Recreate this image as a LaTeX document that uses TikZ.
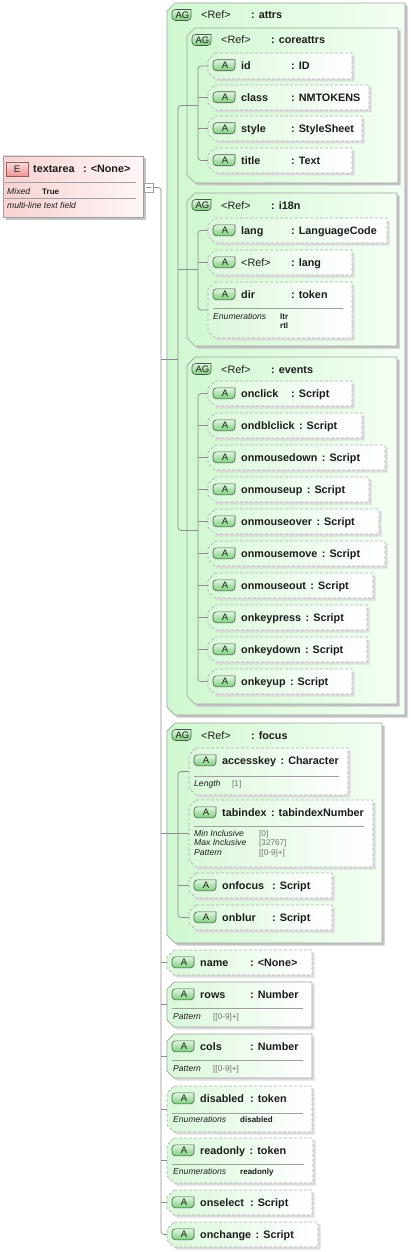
\documentclass[tikz,border=0pt]{standalone}
\usepackage{fontspec}
\setmainfont{Liberation Sans}
\usetikzlibrary{calc}
\definecolor{txt}{HTML}{1C1C1C}
\definecolor{agL}{RGB}{208,248,208}
\definecolor{agR}{RGB}{244,255,244}
\definecolor{aL}{RGB}{218,248,218}
\definecolor{aR}{RGB}{255,255,255}
\definecolor{bordc}{HTML}{A0A0A0}
\definecolor{dashc}{HTML}{B0B0B0}
\definecolor{shc}{HTML}{C4C4C4}
\definecolor{shl}{HTML}{DDDDDD}
\definecolor{conc}{HTML}{8C8C8C}
\definecolor{bdgT}{RGB}{225,248,225}
\definecolor{bdgB}{RGB}{125,205,125}
\definecolor{bdgD}{HTML}{4A5A4A}
\definecolor{eL}{RGB}{248,210,210}
\definecolor{eR}{RGB}{255,246,246}
\definecolor{ebT}{RGB}{252,220,220}
\definecolor{ebB}{RGB}{235,150,150}
\definecolor{ebD}{HTML}{A05858}
\definecolor{fv}{HTML}{707070}
\newcount\tncount
\tikzset{
 autoname/.code={\global\advance\tncount by 1\relax\pgfkeysalso{name=tx\the\tncount}},
 conn/.style={draw=conc, line width=0.7pt, rounded corners=3pt},
 agbox/.style={left color=agL, right color=agR, draw=bordc, line width=0.7pt},
 abox-opt/.style={left color=aL, right color=aR, draw=dashc, line width=0.7pt, dash pattern=on 3pt off 2pt},
 abox-req/.style={left color=aL, right color=aR, draw=bordc, line width=0.7pt},
 shadowAG/.style={fill=shc},
 shadowA/.style={fill=shl},
 lbl/.style={autoname, inner sep=0pt, anchor=base west, text=txt, font=\fontsize{10.8}{12}\selectfont\bfseries},
 badgetxt/.style={autoname, inner sep=0pt, text=txt, font=\fontsize{9.5}{10}\selectfont},
 fkey/.style={autoname, inner sep=0pt, anchor=base west, text=txt, font=\fontsize{8.6}{10}\selectfont\itshape},
 fval/.style={autoname, inner sep=0pt, anchor=base west, text=fv, font=\fontsize{8.2}{10}\selectfont},
 fvalb/.style={autoname, inner sep=0pt, anchor=base west, text=txt, font=\fontsize{8}{10}\selectfont\bfseries},
 sepline/.style={draw=bordc, line width=0.6pt},
 boxnode/.style={inner sep=0pt, outer sep=0pt, anchor=north west},
}
% name/type text with aligned colon column
\newcommand\nt[2]{\setbox0=\hbox{#1}\ifdim\wd0<44pt\hbox to 50pt{\box0\hfil}\else\hbox{\box0\hspace{4.5pt}}\fi: #2}
% chamfered box: name, x0, y0, x1, y1, chamfer, style, shadow style
\newcommand\cbox[8]{%
 \node[boxnode, minimum width={#4pt-#2pt}, minimum height={#5pt-#3pt}] (#1) at (#2,#3) {};
 \path[#8, shift={(2.5,2.5)}] (#2+#6,#3) -- (#4,#3) -- (#4,#5) -- (#2+#6,#5) -- (#2,#5-#6) -- (#2,#3+#6) -- cycle;
 \path[#7] (#2+#6,#3) -- (#4,#3) -- (#4,#5) -- (#2+#6,#5) -- (#2,#5-#6) -- (#2,#3+#6) -- cycle;
}
% badge: name, x, ycenter, width, text
\newcommand\badge[5]{%
 \path[draw=bdgD, line width=0.6pt, top color=bdgT, bottom color=bdgB, rounded corners=3.5pt] (#2+#4,#3-5.5) -- (#2,#3-5.5) -- (#2,#3+5.5) -- (#2+#4,#3+5.5) [sharp corners] -- cycle;
 \node[badgetxt] (#1-b) at (#2+#4/2+1,#3) {#5};
}
% attribute box: name, x0, y0, x1, y1, opt/req, label, type
\newcommand\attr[8]{%
 \cbox{#1}{#2}{#3}{#4}{#5}{7}{abox-#6}{shadowA}
 \badge{#1}{#2+5}{#3+12.3}{22}{A}
 \node[lbl] (#1-t) at (#2+33,#3+16.3) {\nt{#7}{#8}};
}
% attribute group header: name, x0, y0, type
\newcommand\aghead[4]{%
 \badge{#1}{#2+5}{#3+12}{19}{AG}
 \node[lbl] (#1-t) at (#2+34,#3+16) {\nt{\mdseries<Ref>}{#4}};
}
\newcommand\asep[3]{\draw[sepline] (#1+5,#2+26) -- (#3-9,#2+26);}
\newcommand\fct[6]{\node[fkey] at (#1,#2) {#3}; \node[#6] at (#4,#2) {#5};}
\begin{document}
\begin{tikzpicture}[x=1pt,y=-1pt]
\useasboundingbox (0,0) rectangle (411,1252);
\fill[white] (0,0) rectangle (411,1252);

% ---- textarea element ----
\node[boxnode, minimum width=140pt, minimum height=61pt] (textarea) at (3,156) {};
\fill[shc, shift={(2.5,2.5)}] (3,156) rectangle (143,217);
\path[left color=eL, right color=eR, draw=bordc, line width=0.7pt] (3,156) rectangle (143,217);
\path[top color=ebT, bottom color=ebB, draw=ebD, line width=0.6pt] (6,162) rectangle (28,176);
\node[badgetxt] (E-b) at (17,169) {E};
\node[lbl] (textarea-t) at (33,173) {\nt{textarea}{<None>}};
\draw[sepline] (5,182) -- (136,182);
\node[fkey] at (7,194) {Mixed};
\node[fvalb] at (42,194) {True};
\draw[sepline] (5,198) -- (136,198);
\node[fkey] at (7,208) {multi-line text field};
\node[boxnode, draw=bordc, fill=white, line width=0.6pt, minimum width=9pt, minimum height=9pt] (btn) at (144,183) {};
\draw[conc, line width=0.7pt] ($(btn.center)+(-2.5,0)$) -- ($(btn.center)+(2.5,0)$);

% ---- attrs ----
\cbox{attrs}{167}{3}{405}{715}{8}{agbox}{shadowAG}
\aghead{attrs}{167}{3}{attrs}

\cbox{coreattrs}{187}{28}{398}{183}{8}{agbox}{shadowAG}
\aghead{coreattrs}{187}{28}{coreattrs}
\attr{id}{208}{53}{352}{79}{opt}{id}{ID}
\attr{class}{208}{85}{369}{110}{opt}{class}{NMTOKENS}
\attr{style}{208}{116}{362}{141}{opt}{style}{StyleSheet}
\attr{title}{208}{148}{352}{173}{opt}{title}{Text}

\cbox{i18n}{187}{193}{397}{346}{8}{agbox}{shadowAG}
\aghead{i18n}{187}{193}{i18n}
\attr{lang}{208}{218}{387}{243}{opt}{lang}{LanguageCode}
\attr{refl}{208}{250}{352}{275}{opt}{\mdseries<Ref>}{lang}
\attr{dir}{208}{282}{352}{338}{opt}{dir}{token}
\asep{208}{282}{352}
\fct{213}{319}{Enumerations}{280}{ltr}{fvalb}
\node[fvalb] at (280,328) {rtl};

\cbox{events}{187}{357}{397}{704}{8}{agbox}{shadowAG}
\aghead{events}{187}{357}{events}
\attr{onclick}{208}{381}{352}{406}{opt}{onclick}{Script}
\attr{ondblclick}{208}{413}{362}{438}{opt}{ondblclick}{Script}
\attr{onmousedown}{208}{445}{385}{470}{opt}{onmousedown}{Script}
\attr{onmouseup}{208}{477}{369}{502}{opt}{onmouseup}{Script}
\attr{onmouseover}{208}{509}{379}{534}{opt}{onmouseover}{Script}
\attr{onmousemove}{208}{541}{385}{566}{opt}{onmousemove}{Script}
\attr{onmouseout}{208}{573}{373}{598}{opt}{onmouseout}{Script}
\attr{onkeypress}{208}{605}{367}{630}{opt}{onkeypress}{Script}
\attr{onkeydown}{208}{637}{367}{662}{opt}{onkeydown}{Script}
\attr{onkeyup}{208}{669}{352}{694}{opt}{onkeyup}{Script}

% ---- focus ----
\cbox{focus}{167}{723}{382}{943}{8}{agbox}{shadowAG}
\aghead{focus}{167}{723}{focus}
\attr{accesskey}{189}{748}{348}{795}{opt}{accesskey}{Character}
\asep{189}{750}{348}
\fct{194}{786}{Length}{232}{[1]}{fval}
\attr{tabindex}{189}{800}{373}{867}{opt}{tabindex}{tabindexNumber}
\asep{189}{800}{373}
\fct{194}{836}{Min Inclusive}{259}{[0]}{fval}
\fct{194}{845.5}{Max Inclusive}{259}{[32767]}{fval}
\fct{194}{855}{Pattern}{259}{[[0-9]+]}{fval}
\attr{onfocus}{189}{873}{332}{898}{opt}{onfocus}{Script}
\attr{onblur}{189}{905}{332}{930}{opt}{onblur}{Script}

% ---- direct attributes ----
\attr{name}{167}{950}{312}{975}{opt}{name}{<None>}
\attr{rows}{167}{982}{312}{1027}{req}{rows}{Number}
\asep{167}{982}{312}
\fct{173}{1019}{Pattern}{213}{[[0-9]+]}{fval}
\attr{cols}{167}{1034}{312}{1078}{req}{cols}{Number}
\asep{167}{1034}{312}
\fct{173}{1071}{Pattern}{213}{[[0-9]+]}{fval}
\attr{disabled}{167}{1086}{312}{1132}{opt}{disabled}{token}
\asep{167}{1087}{312}
\fct{173}{1122}{Enumerations}{240}{disabled}{fvalb}
\attr{readonly}{167}{1138}{313}{1183}{opt}{readonly}{token}
\asep{167}{1138}{313}
\fct{173}{1174}{Enumerations}{240}{readonly}{fvalb}
\attr{onselect}{167}{1190}{312}{1215}{opt}{onselect}{Script}
\attr{onchange}{167}{1222}{318}{1247}{opt}{onchange}{Script}

% ---- connectors ----
\coordinate (main-t) at (161,600);
\coordinate (attrs-t) at (178,359);
\coordinate (core-t) at (198,105);
\coordinate (i18n-t) at (198,270);
\coordinate (ev-t) at (198,530);
\coordinate (focus-t) at (178,833);

\draw[conn] (btn.east) -| (main-t) |- (onchange.west);
\draw[conn] (main-t |- attrs.west) -- (attrs-t);
\draw[conn] (main-t |- focus.west) -- (focus-t);
\foreach \n in {name,rows,cols,disabled,readonly,onselect}
  \draw[conn] (main-t |- \n.west) -- (\n.west);

\draw[conn] (core-t |- coreattrs.west) -| (attrs-t) |- (ev-t |- events.west);
\draw[conn] (attrs-t |- i18n.west) -- (i18n-t |- i18n.west);

\draw[conn] (id.west) -| (core-t) |- (title.west);
\foreach \n in {class,style} \draw[conn] (core-t |- \n.west) -- (\n.west);

\draw[conn] (lang.west) -| (i18n-t) |- (dir.west);
\draw[conn] (i18n-t |- refl.west) -- (refl.west);

\draw[conn] (onclick.west) -| (ev-t) |- (onkeyup.west);
\foreach \n in {ondblclick,onmousedown,onmouseup,onmouseover,onmousemove,onmouseout,onkeypress,onkeydown}
  \draw[conn] (ev-t |- \n.west) -- (\n.west);

\draw[conn] (accesskey.west) -| (focus-t) |- (onblur.west);
\foreach \n in {tabindex,onfocus} \draw[conn] (focus-t |- \n.west) -- (\n.west);
\end{tikzpicture}
\end{document}
